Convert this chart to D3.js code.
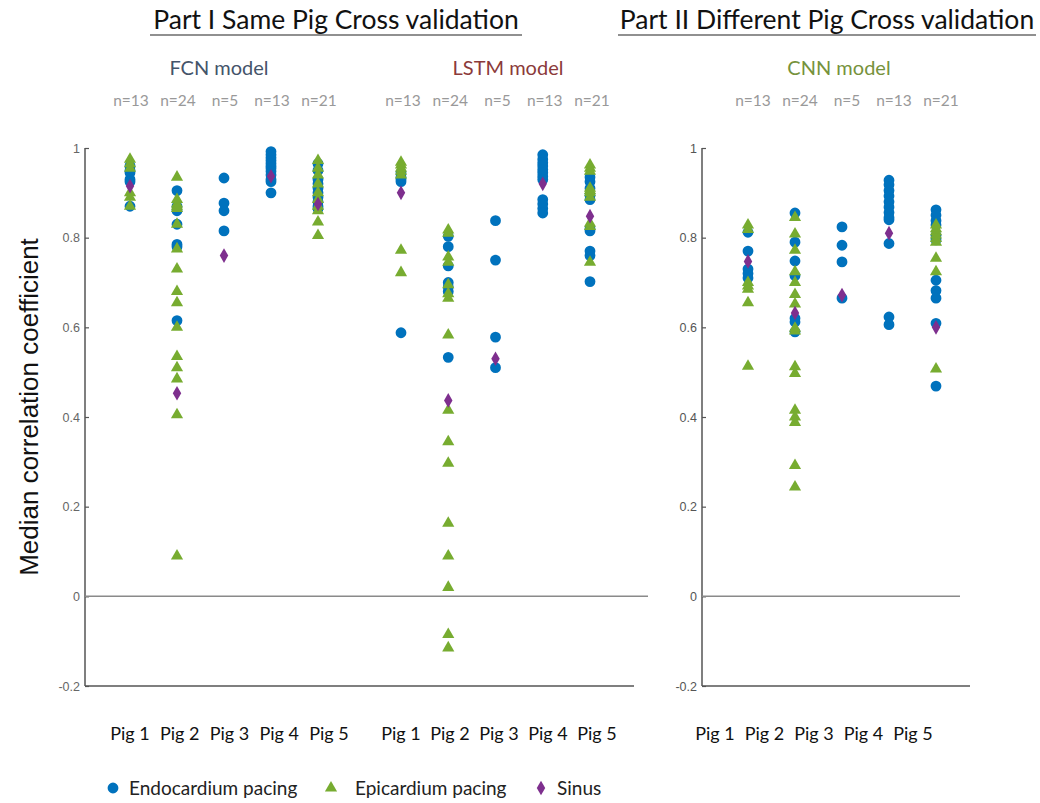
<!DOCTYPE html>
<html>
<head>
<meta charset="utf-8">
<script src="https://cdn.jsdelivr.net/npm/d3@7"></script>
<style>
body { margin: 0; background: #fff; }
</style>
</head>
<body>
<div id="chart"></div>
<script>
// categories / labels
var pigs = ["Pig 1", "Pig 2", "Pig 3", "Pig 4", "Pig 5"];
var nLabels = ["n=13", "n=24", "n=5", "n=13", "n=21"];
var yTicks = [-0.2, 0, 0.2, 0.4, 0.6, 0.8, 1];
var typeNames = ["Endocardium pacing", "Epicardium pacing", "Sinus"];

// FCN model (Part I) - one sub array per pig
var fcnEndo = [
  [0.96, 0.95, 0.945, 0.93, 0.925, 0.87],
  [0.905, 0.87, 0.86, 0.83, 0.785, 0.78, 0.615],
  [0.933, 0.877, 0.86, 0.815],
  [0.992, 0.985, 0.978, 0.972, 0.966, 0.96, 0.955, 0.948, 0.94, 0.93, 0.925, 0.90],
  [0.965, 0.95, 0.93, 0.92, 0.91, 0.9, 0.89, 0.88, 0.87, 0.865]
];
var fcnEpi = [
  [0.975, 0.965, 0.955, 0.90, 0.89, 0.87],
  [0.935, 0.885, 0.875, 0.87, 0.865, 0.83, 0.775, 0.73, 0.68, 0.655, 0.60, 0.535, 0.51, 0.485, 0.405, 0.09],
  [],
  [],
  [0.972, 0.955, 0.94, 0.92, 0.9, 0.885, 0.87, 0.86, 0.835, 0.805]
];
var fcnSinus = [[0.915], [0.453], [0.76], [0.937], [0.875]];

// LSTM model (Part I)
var lstmEndo = [
  [0.945, 0.935, 0.93, 0.925, 0.588],
  [0.803, 0.78, 0.737, 0.70, 0.69, 0.68, 0.533],
  [0.838, 0.75, 0.578, 0.51],
  [0.985, 0.975, 0.967, 0.96, 0.952, 0.945, 0.937, 0.93, 0.885, 0.875, 0.865, 0.855],
  [0.935, 0.925, 0.91, 0.895, 0.885, 0.82, 0.815, 0.77, 0.76, 0.702]
];
var lstmEpi = [
  [0.968, 0.962, 0.955, 0.948, 0.94, 0.772, 0.722],
  [0.817, 0.81, 0.757, 0.745, 0.695, 0.675, 0.665, 0.583, 0.415, 0.345, 0.297, 0.163, 0.09, 0.02, -0.085, -0.115],
  [],
  [],
  [0.962, 0.955, 0.948, 0.91, 0.905, 0.9, 0.89, 0.832, 0.825, 0.745]
];
var lstmSinus = [[0.90], [0.437], [0.53], [0.92], [0.848]];

// CNN model (Part II)
var cnnEndo = [
  [0.812, 0.77, 0.73, 0.72, 0.71],
  [0.855, 0.79, 0.748, 0.715, 0.62, 0.612, 0.59],
  [0.824, 0.783, 0.746, 0.665],
  [0.928, 0.918, 0.905, 0.893, 0.88, 0.868, 0.856, 0.845, 0.84, 0.787, 0.623, 0.606],
  [0.862, 0.85, 0.838, 0.828, 0.805, 0.795, 0.705, 0.682, 0.665, 0.609, 0.469]
];
var cnnEpi = [
  [0.828, 0.818, 0.70, 0.692, 0.685, 0.655, 0.513],
  [0.845, 0.808, 0.772, 0.724, 0.70, 0.673, 0.652, 0.598, 0.592, 0.512, 0.497, 0.415, 0.40, 0.388, 0.292, 0.244],
  [],
  [],
  [0.828, 0.82, 0.813, 0.806, 0.798, 0.79, 0.754, 0.724, 0.507]
];
var cnnSinus = [[0.747], [0.632], [0.672], [0.81], [0.60]];

var colors = ["#0072bd", "#77ac30", "#7e2f8e"];
var shapes = [d3.symbolCircle, d3.symbolTriangle, d3.symbolDiamond];
var sizes = [92, 64, 62];

var labelFont = "Lato, 'Open Sans', sans-serif";

var svg = d3.select("#chart").append("svg")
    .attr("width", 1040)
    .attr("height", 803);

var y = d3.scaleLinear()
    .domain([-0.2, 1])
    .range([686, 148]);

// flatten one model into point records
function points(endo, epi, sinus) {
  var out = [];
  [endo, epi, sinus].forEach(function(arr, t) {
    arr.forEach(function(vals, i) {
      vals.forEach(function(v) {
        out.push({pig: pigs[i], val: v, type: t});
      });
    });
  });
  return out;
}

function drawPanel(cfg) {
  var x = d3.scalePoint().domain(pigs).range(cfg.range);
  var g = svg.append("g");

  // n= counts
  g.selectAll(".ncount").data(nLabels).enter().append("text")
      .attr("x", function(d, i) { return x(pigs[i]) + cfg.nShift; })
      .attr("y", 106)
      .attr("text-anchor", "middle")
      .style("font-family", labelFont)
      .style("font-size", "15.5px")
      .style("fill", "#999")
      .text(function(d) { return d; });

  // model title
  g.append("text")
      .attr("x", cfg.titleX)
      .attr("y", 75)
      .attr("text-anchor", "middle")
      .style("font-family", labelFont)
      .style("font-size", "20px")
      .style("fill", cfg.titleColor)
      .text(cfg.title);

  var pts = points(cfg.endo, cfg.epi, cfg.sinus);
  g.selectAll(".pt").data(pts).enter().append("path")
      .attr("transform", function(d) { return "translate(" + x(d.pig) + "," + y(d.val) + ")"; })
      .attr("d", function(d) { return d3.symbol().type(shapes[d.type]).size(sizes[d.type])(); })
      .attr("fill", function(d) { return colors[d.type]; });

  // pig labels underneath
  var xl = d3.scalePoint().domain(pigs).range(cfg.labelRange);
  g.selectAll(".pig").data(pigs).enter().append("text")
      .attr("x", function(d) { return xl(d); })
      .attr("y", 740)
      .attr("text-anchor", "middle")
      .style("font-family", labelFont)
      .style("font-size", "18px")
      .style("fill", "#111")
      .text(function(d) { return d; });
}

function drawAxes(x0, x1, zeroEnd, labelColor) {
  var yAxis = d3.axisLeft(y)
      .tickValues(yTicks)
      .tickSize(-4)
      .tickSizeOuter(0)
      .tickPadding(5)
      .tickFormat(function(d) { return String(d); });

  var ax = svg.append("g")
      .attr("transform", "translate(" + x0 + ",0)")
      .call(yAxis);
  ax.select(".domain").remove();
  ax.selectAll(".tick line").attr("stroke", "#555").attr("stroke-width", 1.2);
  ax.selectAll(".tick text")
      .style("font-family", "Arial, 'Liberation Sans', sans-serif")
      .style("font-size", "12.5px")
      .style("fill", labelColor);

  // vertical axis line
  svg.append("line")
      .attr("x1", x0).attr("x2", x0)
      .attr("y1", y(1)).attr("y2", y(-0.2))
      .attr("stroke", "#555").attr("stroke-width", 1.5);
  svg.append("line")
      .attr("x1", x0).attr("x2", x1)
      .attr("y1", y(-0.2)).attr("y2", y(-0.2))
      .attr("stroke", "#555").attr("stroke-width", 1.5);
  svg.append("line")
      .attr("x1", x0).attr("x2", zeroEnd)
      .attr("y1", y(0)).attr("y2", y(0))
      .attr("stroke", "#8a8a8a").attr("stroke-width", 1.5);
}

drawAxes(85, 634, 648, "#666");
drawAxes(702, 970, 960, "#555");

drawPanel({range: [130, 318], labelRange: [130, 329], nShift: 1, title: "FCN model", titleX: 219, titleColor: "#44546a",
  endo: fcnEndo, epi: fcnEpi, sinus: fcnSinus});
drawPanel({range: [401, 590], labelRange: [401, 597], nShift: 2, title: "LSTM model", titleX: 508, titleColor: "#8b3a3a",
  endo: lstmEndo, epi: lstmEpi, sinus: lstmSinus});
drawPanel({range: [748, 936], labelRange: [715, 913], nShift: 5, title: "CNN model", titleX: 839, titleColor: "#76923c",
  endo: cnnEndo, epi: cnnEpi, sinus: cnnSinus});

// part headings with underline
var parts = [
  {text: "Part I Same Pig Cross validation", cx: 336, x1: 150, x2: 522},
  {text: "Part II Different Pig Cross validation", cx: 827, x1: 618, x2: 1036}
];
parts.forEach(function(p) {
  svg.append("text")
      .attr("x", p.cx).attr("y", 29)
      .attr("text-anchor", "middle")
      .style("font-family", labelFont)
      .style("font-size", "26.5px")
      .style("fill", "#111")
      .text(p.text);
  svg.append("line")
      .attr("x1", p.x1).attr("x2", p.x2)
      .attr("y1", 35).attr("y2", 35)
      .attr("stroke", "#222").attr("stroke-width", 1.2);
});

// y title
svg.append("text")
    .attr("transform", "translate(38,407) rotate(-90)")
    .attr("text-anchor", "middle")
    .style("font-family", "Arial, 'Liberation Sans', sans-serif")
    .style("font-size", "26px")
    .style("fill", "#111")
    .text("Median correlation coefficient");

// legend
var legX = [113, 331, 541];
var lg = svg.selectAll(".leg").data(typeNames).enter().append("g")
    .attr("transform", function(d, i) { return "translate(" + legX[i] + ",788)"; });
lg.append("path")
    .attr("d", function(d, i) { return d3.symbol().type(shapes[i]).size(sizes[i])(); })
    .attr("fill", function(d, i) { return colors[i]; });
lg.append("text")
    .attr("x", function(d, i) { return i == 1 ? 24 : 16; })
    .attr("y", 7)
    .style("font-family", labelFont)
    .style("font-size", "19px")
    .style("fill", "#222")
    .text(function(d) { return d; });
</script>
</body>
</html>
